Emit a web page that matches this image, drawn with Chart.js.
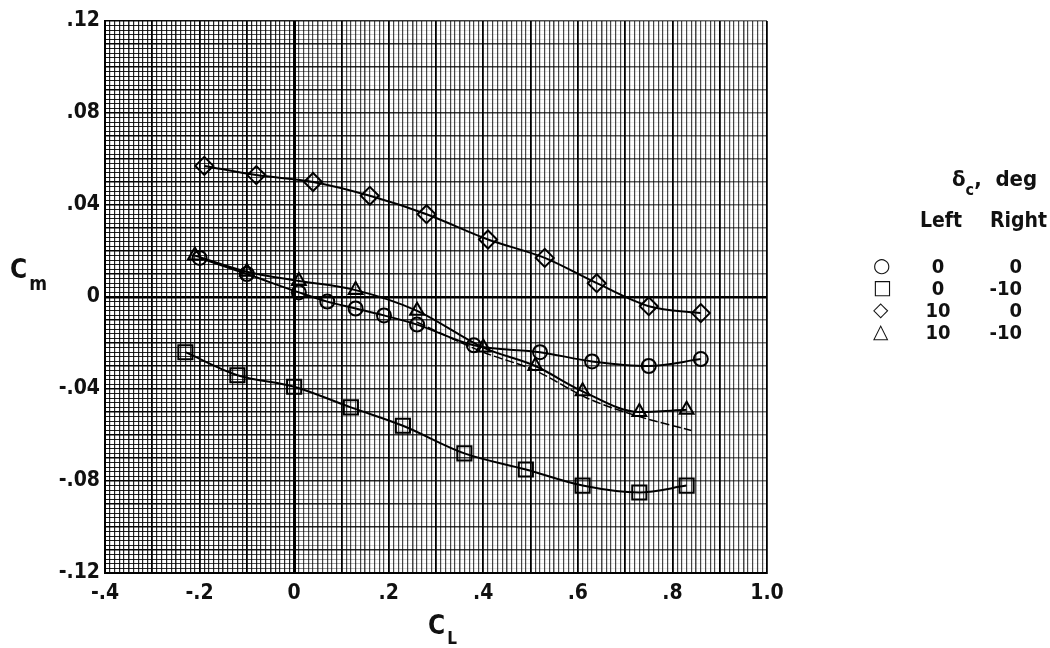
<!DOCTYPE html>
<html>
<head>
<meta charset="utf-8">
<script src="https://cdn.jsdelivr.net/npm/chart.js@4.4.1/dist/chart.umd.min.js"></script>
<style>
  body { margin: 0; background: #fff; }
  #wrap { position: relative; width: 1050px; height: 648px; }
  .lbl {
    position: absolute;
    font-family: 'Liberation Sans Narrow', 'DejaVu Sans Condensed', sans-serif;
    font-weight: bold;
    color: #111;
    white-space: nowrap;
    line-height: 1;
  }
  .sym { font-family: 'DejaVu Sans', sans-serif; font-weight: normal; font-size: 20px; }
</style>
</head>
<body>
<div id="wrap">
  <canvas id="cmChart"></canvas>

  <!-- axis titles -->
  <div class="lbl" style="left:10px;top:256px;font-size:26px">C<span style="font-size:19px;position:relative;top:12px;left:2px">m</span></div>
  <div class="lbl" style="left:428px;top:612px;font-size:26px">C<span style="font-size:17px;position:relative;top:10px;left:2px">L</span></div>

  <!-- key -->
  <div class="lbl" style="left:952px;top:168px;font-size:22px">δ<span style="font-size:16px;position:relative;top:9px">c</span>,&nbsp; deg</div>
  <div class="lbl" style="left:920px;top:210px;font-size:21px">Left</div>
  <div class="lbl" style="left:990px;top:210px;font-size:21px">Right</div>
  <div id="key"></div>
</div>

<script>
// C_L / C_m data per control deflection (left, right)
const circleCL  = [-0.20, -0.10, 0.01, 0.07, 0.13, 0.19, 0.26, 0.38, 0.52, 0.63, 0.75, 0.86];
const circleCm  = [0.017, 0.010, 0.002, -0.002, -0.005, -0.008, -0.012, -0.021, -0.024, -0.028, -0.030, -0.027];

const squareCL  = [-0.23, -0.12, 0.00, 0.12, 0.23, 0.36, 0.49, 0.61, 0.73, 0.83];
const squareCm  = [-0.024, -0.034, -0.039, -0.048, -0.056, -0.068, -0.075, -0.082, -0.085, -0.082];

const diamondCL = [-0.19, -0.08, 0.04, 0.16, 0.28, 0.41, 0.53, 0.64, 0.75, 0.86];
const diamondCm = [0.057, 0.053, 0.050, 0.044, 0.036, 0.025, 0.017, 0.006, -0.004, -0.007];

const triangleCL = [-0.21, -0.10, 0.01, 0.13, 0.26, 0.40, 0.51, 0.61, 0.73, 0.83];
const triangleCm = [0.018, 0.011, 0.007, 0.003, -0.006, -0.022, -0.030, -0.041, -0.050, -0.049];

// dashed fairing below the triangle curve
const fairCL = [0.26, 0.40, 0.51, 0.62, 0.73, 0.84];
const fairCm = [-0.011, -0.024, -0.032, -0.044, -0.052, -0.058];

const xTickValues = [-0.4, -0.2, 0, 0.2, 0.4, 0.6, 0.8, 1.0];
const xTickLabels = ['-.4', '-.2', '0', '.2', '.4', '.6', '.8', '1.0'];
const yTickValues = [0.12, 0.08, 0.04, 0, -0.04, -0.08, -0.12];
const yTickLabels = ['.12', '.08', '.04', '0', '-.04', '-.08', '-.12'];

const keyRows = [
  { sym: '○', left: '0',  right: '0' },
  { sym: '□', left: '0',  right: '-10' },
  { sym: '◇', left: '10', right: '0' },
  { sym: '△', left: '10', right: '-10' }
];

// key rows
const key = document.getElementById('key');
keyRows.forEach((r, i) => {
  const top = 256 + i * 22;
  key.insertAdjacentHTML('beforeend',
    `<div class="lbl sym" style="left:873px;top:${top - 1}px">${r.sym}</div>` +
    `<div class="lbl" style="left:920px;top:${top}px;width:36px;text-align:center;font-size:20px">${r.left}</div>` +
    `<div class="lbl" style="left:984px;top:${top}px;width:38px;text-align:right;font-size:20px">${r.right}</div>`);
});

const pairs = (xs, ys) => xs.map((x, i) => ({ x: x, y: ys[i] }));

function labelFor(values, labels, v) {
  const i = values.findIndex(t => Math.abs(t - v) < 1e-6);
  return i >= 0 ? labels[i] : '';
}

// horizontal rules fade out to the right like the printed graph paper
let gradCache = {};
function hGradient(chart, strong) {
  const area = chart.chartArea;
  if (!area) return 'rgba(0,0,0,0.4)';
  const key = (strong ? 's' : 'm') + area.left + '_' + area.right;
  if (gradCache[key]) return gradCache[key];
  const g = chart.ctx.createLinearGradient(area.left, 0, area.right, 0);
  if (strong) {
    g.addColorStop(0, 'rgba(0,0,0,1)');
    g.addColorStop(0.35, 'rgba(0,0,0,0.85)');
    g.addColorStop(1, 'rgba(0,0,0,0.55)');
  } else {
    g.addColorStop(0, 'rgba(0,0,0,0.9)');
    g.addColorStop(0.22, 'rgba(0,0,0,0.7)');
    g.addColorStop(0.42, 'rgba(0,0,0,0.15)');
    g.addColorStop(1, 'rgba(0,0,0,0.05)');
  }
  gradCache[key] = g;
  return g;
}

const lineBase = {
  borderColor: '#000',
  backgroundColor: 'rgba(255,255,255,0)',
  pointBorderColor: '#000',
  pointBackgroundColor: 'rgba(255,255,255,0)',
  pointBorderWidth: 2,
  borderWidth: 2,
  showLine: true,
  tension: 0.35,
  cubicInterpolationMode: 'monotone'
};

const tickFont = { family: "'Liberation Sans Narrow', 'DejaVu Sans Condensed', sans-serif", size: 21, weight: 'bold' };

new Chart(document.getElementById('cmChart').getContext('2d'), {
  type: 'scatter',
  data: {
    datasets: [
      Object.assign({}, lineBase, {
        label: 'fairing', data: pairs(fairCL, fairCm),
        pointRadius: 0, borderWidth: 1.5, borderDash: [9, 3], tension: 0.3
      }),
      Object.assign({}, lineBase, {
        label: '0, 0', data: pairs(circleCL, circleCm), pointStyle: 'circle', pointRadius: 7
      }),
      Object.assign({}, lineBase, {
        label: '0, -10', data: pairs(squareCL, squareCm), pointStyle: 'rect', pointRadius: 10
      }),
      Object.assign({}, lineBase, {
        label: '10, 0', data: pairs(diamondCL, diamondCm), pointStyle: 'rectRot', pointRadius: 9
      }),
      Object.assign({}, lineBase, {
        label: '10, -10', data: pairs(triangleCL, triangleCm), pointStyle: 'triangle', pointRadius: 8
      })
    ]
  },
  options: {
    responsive: true,
    maintainAspectRatio: false,
    animation: false,
    layout: { padding: { left: 0, top: 21, right: 283, bottom: 0 } },
    scales: {
      x: {
        type: 'linear',
        min: -0.4,
        max: 1.0,
        afterFit: s => { s.height = 75; },
        border: { color: '#000', width: 2 },
        grid: {
          drawTicks: false,
          color: c => {
            const k = Math.round(c.tick.value * 100);
            if (k === 0) return '#000';
            if (k % 10 === 0) return '#000';
            return c.tick.value < 0 ? 'rgba(0,0,0,0.85)' : 'rgba(0,0,0,0.72)';
          },
          lineWidth: c => {
            const k = Math.round(c.tick.value * 100);
            if (k === 0) return 3;
            if (k % 10 === 0) return 1.8;
            return k % 5 === 0 ? 1.5 : 1.2;
          }
        },
        ticks: {
          stepSize: 0.01,
          autoSkip: false,
          maxRotation: 0,
          padding: 8,
          color: '#111',
          font: tickFont,
          callback: v => labelFor(xTickValues, xTickLabels, v)
        }
      },
      y: {
        type: 'linear',
        min: -0.12,
        max: 0.12,
        afterFit: s => { s.width = 105; },
        border: { color: '#000', width: 2 },
        grid: {
          drawTicks: false,
          color: c => {
            const k = Math.round(c.tick.value * 1000);
            if (k === 0) return '#000';
            return hGradient(c.chart, k % 10 === 0);
          },
          lineWidth: c => {
            const k = Math.round(c.tick.value * 1000);
            if (k === 0) return 2.5;
            return k % 10 === 0 ? 1.5 : 1.1;
          }
        },
        ticks: {
          stepSize: 0.002,
          autoSkip: false,
          padding: 5,
          color: '#111',
          font: tickFont,
          callback: v => labelFor(yTickValues, yTickLabels, v)
        }
      }
    },
    plugins: {
      legend: { display: false },
      tooltip: { enabled: false }
    }
  }
});
</script>
</body>
</html>
